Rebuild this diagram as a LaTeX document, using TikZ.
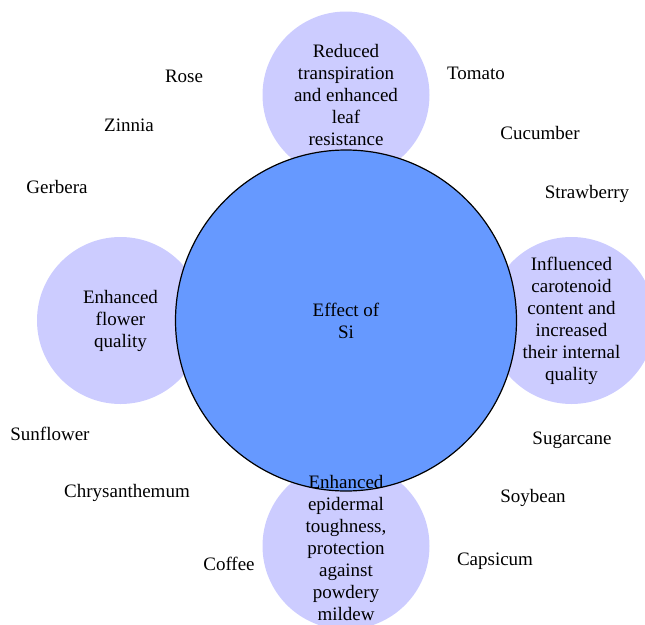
\documentclass[tikz,border=0pt]{standalone}
\usepackage{fontspec}
\setmainfont{Liberation Serif}
\usetikzlibrary{positioning}
\definecolor{petalblue}{HTML}{CCCCFF}
\definecolor{hubblue}{HTML}{6699FF}

\begin{document}
\begin{tikzpicture}[x=1pt,y=-1pt,node distance=225.5pt,
                    font=\fontsize{19}{22}\selectfont,
                    petal/.style={circle,fill=petalblue,minimum size=167pt,inner sep=0pt},
                    hub/.style={circle,draw=black,line width=1.2pt,fill=hubblue,minimum size=341pt,inner sep=0pt,align=center},
                    blurb/.style={align=center,inner sep=0pt}]
                    \useasboundingbox (0,0) rectangle (645,624);
                    \coordinate (c) at (346,320.5);
                    
                    % petals behind the hub
                    \node[petal] (top) [above of=c] {};
                    \node[petal] (left) [left of=c] {};
                    \node[petal] (right) [right of=c] {};
                    \node[petal] (bottom) [below of=c] {};
                    
                    \node[hub] (si) at (c) {Effect of\\Si};
                    
                    % petal texts on top
                    \node[blurb] (topText) at (top) {Reduced\\transpiration\\and enhanced\\leaf\\resistance};
                    \node[blurb] (leftText) at (left) {Enhanced\\flower\\quality};
                    \node[blurb] (rightText) at (right) {Influenced\\carotenoid\\content and\\increased\\their internal\\quality};
                    \node[blurb] (bottomText) [yshift=-2pt] at (bottom) {Enhanced\\epidermal\\toughness,\\protection\\against\\powdery\\mildew};
                    
                    % crops
                    \node (rose) at (184,76) {Rose};
                    \node (zinnia) at (129,125) {Zinnia};
                    \node (gerbera) at (57,187) {Gerbera};
                    \node (tomato) at (476,73) {Tomato};
                    \node (cucumber) at (540,133) {Cucumber};
                    \node (strawberry) at (587,194) {Strawberry};
                    \node (sunflower) at (50,434) {Sunflower};
                    \node (chrysanthemum) at (127,493) {Chrysanthemum};
                    \node (coffee) at (229,564) {Coffee};
                    \node (sugarcane) at (572,440) {Sugarcane};
                    \node (soybean) at (533,498) {Soybean};
                    \node (capsicum) at (495,561) {Capsicum};
\end{tikzpicture}
\end{document}
